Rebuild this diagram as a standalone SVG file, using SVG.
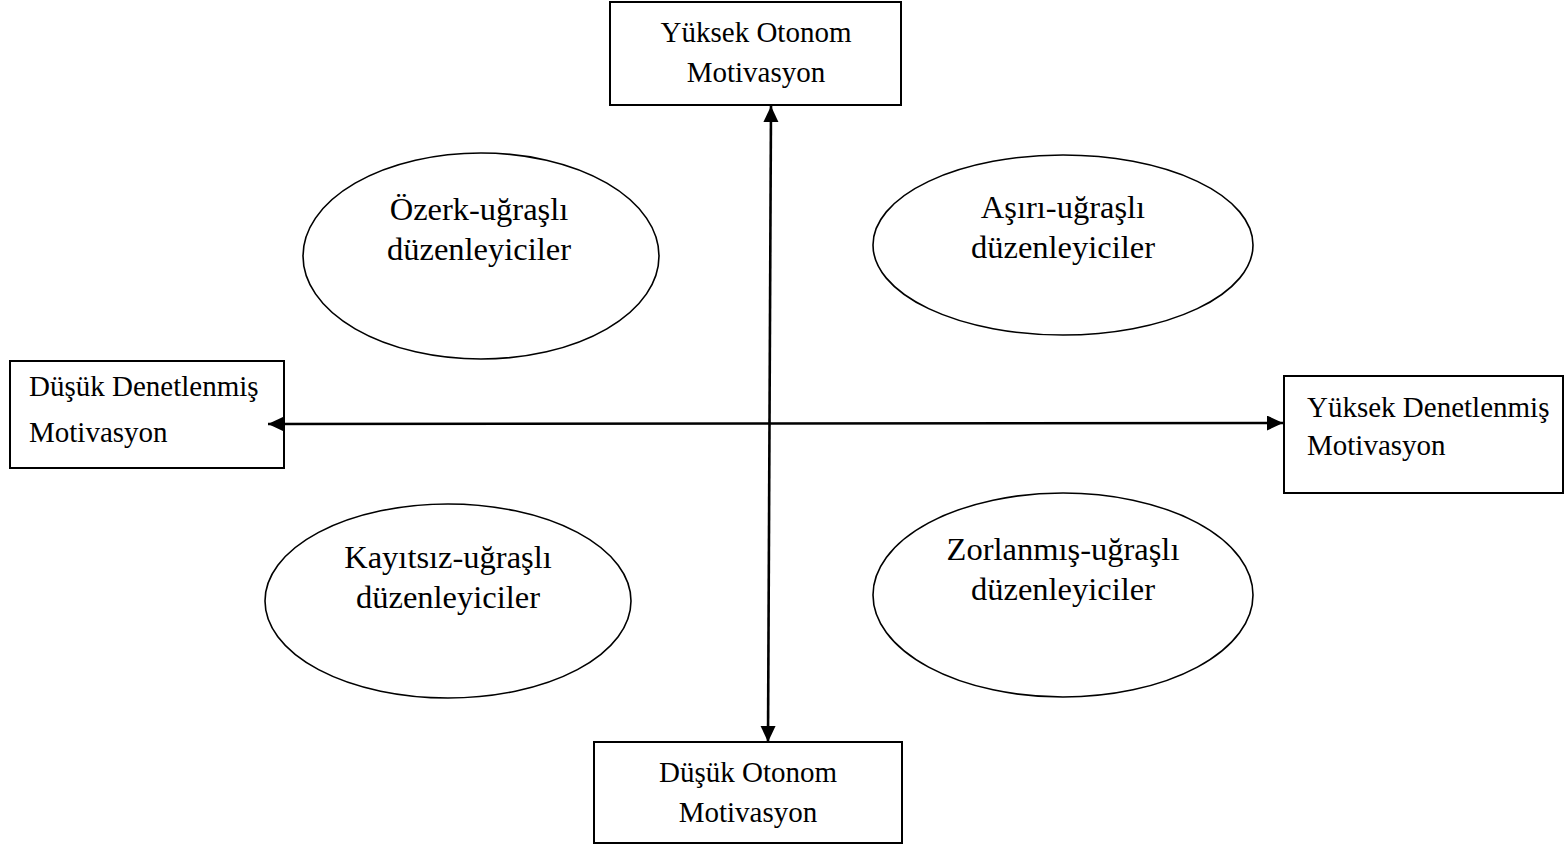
<svg xmlns="http://www.w3.org/2000/svg" width="1564" height="844" viewBox="0 0 1564 844">
<style>
.box{fill:#fff;stroke:#000;stroke-width:2}
.ell{fill:#fff;stroke:#000;stroke-width:1.6}
.bt{font-family:"Liberation Serif","Times New Roman",serif;font-size:29px;fill:#000}
.et{font-family:"Liberation Serif","Times New Roman",serif;font-size:32.5px;fill:#000;text-anchor:middle}
.axis{stroke:#000;stroke-width:2.6;fill:none}
</style>
<defs>
<marker id="arr" markerUnits="userSpaceOnUse" markerWidth="18" markerHeight="16" refX="16" refY="7.5" orient="auto-start-reverse" viewBox="0 0 18 16">
<path d="M0,0 L16,7.5 L0,15 Z" fill="#000"/>
</marker>
</defs>
<rect width="1564" height="844" fill="#fff"/>
<g id="ell-ozerk">
<ellipse class="ell" cx="481" cy="256" rx="178" ry="103"/>
<text class="et" x="479" y="220">Özerk-uğraşlı</text>
<text class="et" x="479" y="260">düzenleyiciler</text>
</g>
<g id="ell-asiri">
<ellipse class="ell" cx="1063" cy="245" rx="190" ry="90"/>
<text class="et" x="1063" y="218">Aşırı-uğraşlı</text>
<text class="et" x="1063" y="258">düzenleyiciler</text>
</g>
<g id="ell-kayitsiz">
<ellipse class="ell" cx="448" cy="601" rx="183" ry="97"/>
<text class="et" x="448" y="568">Kayıtsız-uğraşlı</text>
<text class="et" x="448" y="608">düzenleyiciler</text>
</g>
<g id="ell-zorlanmis">
<ellipse class="ell" cx="1063" cy="595" rx="190" ry="102"/>
<text class="et" x="1063" y="560">Zorlanmış-uğraşlı</text>
<text class="et" x="1063" y="600">düzenleyiciler</text>
</g>
<g id="box-top">
<rect class="box" x="610" y="2" width="291" height="103"/>
<text class="bt" x="756" y="42" text-anchor="middle">Yüksek Otonom</text>
<text class="bt" x="756" y="82" text-anchor="middle">Motivasyon</text>
</g>
<g id="box-left">
<rect class="box" x="10" y="361" width="274" height="107"/>
<text class="bt" x="29" y="396">Düşük Denetlenmiş</text>
<text class="bt" x="29" y="442">Motivasyon</text>
</g>
<g id="box-right">
<rect class="box" x="1284" y="376" width="279" height="117"/>
<text class="bt" x="1307" y="417">Yüksek Denetlenmiş</text>
<text class="bt" x="1307" y="455">Motivasyon</text>
</g>
<g id="box-bottom">
<rect class="box" x="594" y="742" width="308" height="101"/>
<text class="bt" x="748" y="782" text-anchor="middle">Düşük Otonom</text>
<text class="bt" x="748" y="822" text-anchor="middle">Motivasyon</text>
</g>
<g id="connectors">
<line class="axis" x1="771" y1="106" x2="768" y2="742" marker-start="url(#arr)" marker-end="url(#arr)"/>
<line class="axis" x1="268" y1="424" x2="1283" y2="423" marker-start="url(#arr)" marker-end="url(#arr)"/>
</g>
</svg>
